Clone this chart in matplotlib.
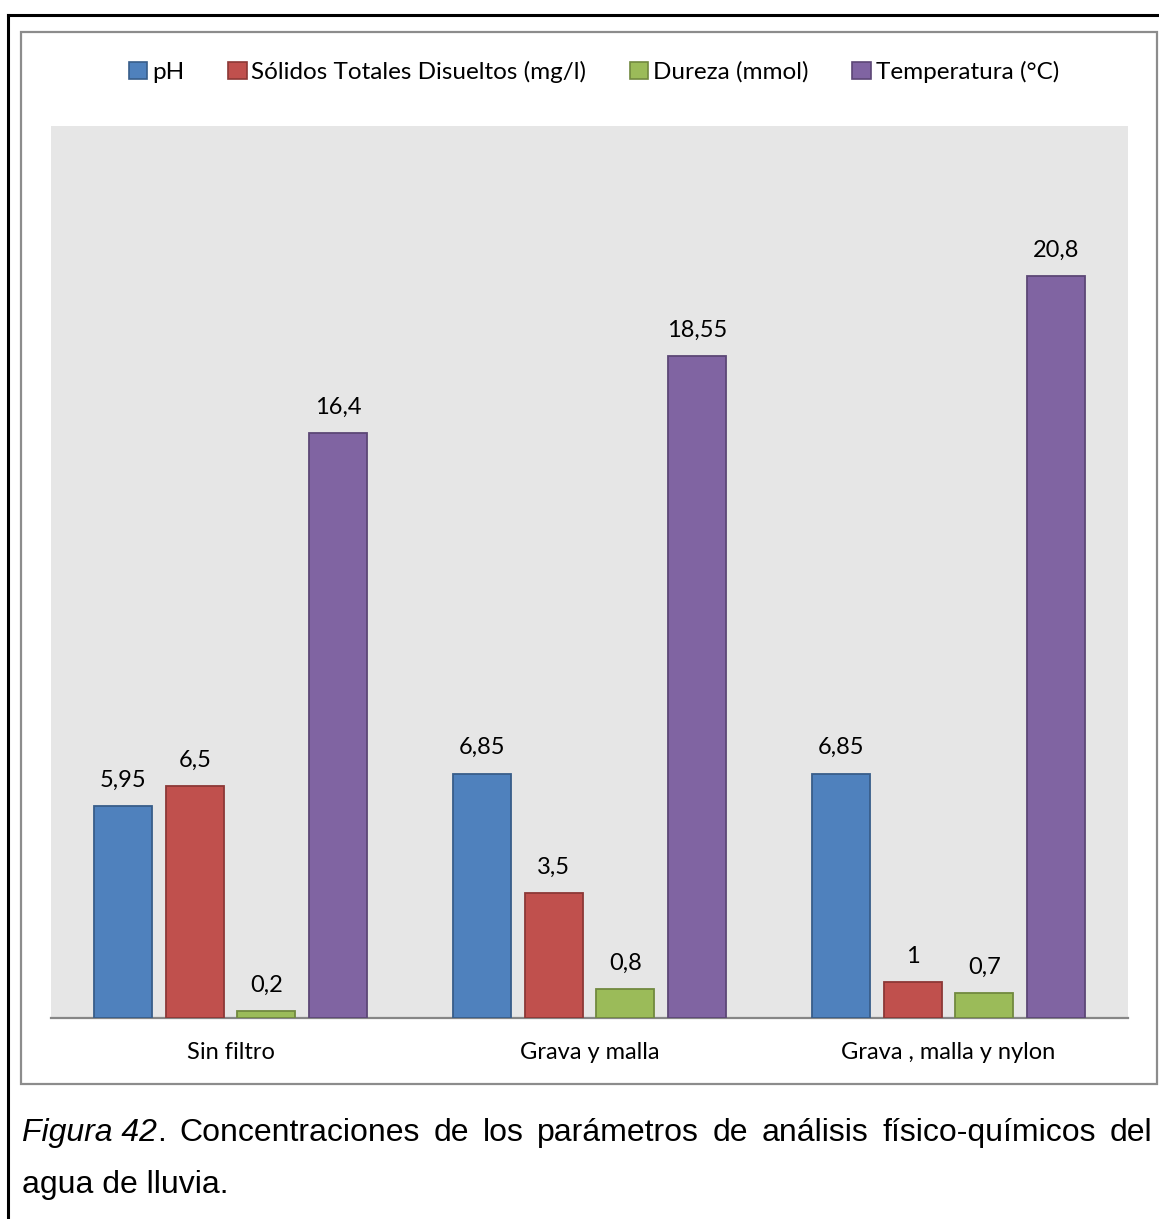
import matplotlib
matplotlib.use("Agg")
import matplotlib.pyplot as plt
from matplotlib.patches import Rectangle
from matplotlib.lines import Line2D
import numpy as np

categories = ["Sin filtro", "Grava y malla", "Grava , malla y nylon"]
series_names = ["pH", "Sólidos Totales Disueltos (mg/l)", "Dureza (mmol)", "Temperatura (°C)"]
ph = [5.95, 6.85, 6.85]
solidos = [6.5, 3.5, 1.0]
dureza = [0.2, 0.8, 0.7]
temperatura = [16.4, 18.55, 20.8]
series_values = [ph, solidos, dureza, temperatura]

face_colors = ["#4F81BD", "#C0504D", "#9BBB59", "#8064A2"]
edge_colors = ["#385D8A", "#8C3836", "#71893F", "#5C4776"]

W, H = 1159, 1219
fig = plt.figure(figsize=(W / 100, H / 100), dpi=100)
fig.patch.set_facecolor("white")

chart_font = ["Lato", "DejaVu Sans"]
caption_font = ["Liberation Sans", "DejaVu Sans"]
fs = 17


def fx(px):
    return px / W


def fy(py):
    return 1 - py / H


# outer page frame (black) and chart frame (gray)
fig.add_artist(Line2D([fx(8), fx(8)], [fy(15), fy(1219)], color="black", lw=2.2,
                      transform=fig.transFigure))
fig.add_artist(Line2D([fx(8), fx(1159)], [fy(15), fy(15)], color="black", lw=2.2,
                      transform=fig.transFigure))
fig.add_artist(Rectangle((fx(21), fy(1084)), fx(1157 - 21), (1084 - 32) / H,
                         fill=False, edgecolor="#8C8C8C", lw=1.6,
                         transform=fig.transFigure))

ax = fig.add_axes([fx(51), fy(1018), fx(1128 - 51), (1018 - 126) / H])
ax.set_facecolor("#E6E6E6")

x = np.arange(len(categories))
width = 0.1616
step = 0.1992
for i, (vals, fc, ec) in enumerate(zip(series_values, face_colors, edge_colors)):
    pos = x + (i - 1.5) * step
    bars = ax.bar(pos, vals, width=width, color=fc, edgecolor=ec, linewidth=1.3,
                  label=series_names[i], zorder=3)
    for b, v in zip(bars, vals):
        txt = f"{v:g}".replace(".", ",")
        ax.annotate(txt, (b.get_x() + b.get_width() / 2, v), xytext=(0, 11),
                    textcoords="offset points", ha="center", va="bottom",
                    fontsize=fs, family=chart_font, color="black")

ax.set_xlim(-0.5, 2.5)
ax.set_ylim(0, 25)
ax.set_yticks([])
ax.set_xticks(x)
ax.set_xticklabels(categories, fontsize=fs, family=chart_font)
ax.tick_params(axis="x", length=0, pad=17)
for s in ["top", "right", "left"]:
    ax.spines[s].set_visible(False)
ax.spines["bottom"].set_color("#868686")
ax.spines["bottom"].set_linewidth(1.6)

handles = [Rectangle((0, 0), 1, 1, facecolor=fc, edgecolor=ec, lw=1.2)
           for fc, ec in zip(face_colors, edge_colors)]
fig.legend(handles, series_names, loc="center", bbox_to_anchor=(fx(594), fy(72)),
           ncol=4, frameon=False, prop={"family": chart_font, "size": 17.5},
           handlelength=0.75, handleheight=0.75, handletextpad=0.2, columnspacing=1.8)

# caption, first line justified to the full text width
cap_fs = 23
renderer = fig.canvas.get_renderer()
cap_y = fy(1133)
left_px, right_px = 22, 1152
fig_label = fig.text(fx(left_px), cap_y, "Figura 42", fontsize=cap_fs, style="italic",
                     family=caption_font, va="center", ha="left")
bb = fig_label.get_window_extent(renderer=renderer)
dot = fig.text(bb.x1 / W, cap_y, ".", fontsize=cap_fs, family=caption_font,
               va="center", ha="left")
dot_end = dot.get_window_extent(renderer=renderer).x1

words = "Concentraciones de los parámetros de análisis físico-químicos del".split()
word_artists = [fig.text(0, cap_y, w, fontsize=cap_fs, family=caption_font,
                         va="center", ha="left") for w in words]
widths = [t.get_window_extent(renderer=renderer).width for t in word_artists]
n_gaps = len(words)
gap = (right_px - dot_end - sum(widths)) / n_gaps
cursor = dot_end + gap
for t, wd in zip(word_artists, widths):
    t.set_x(cursor / W)
    cursor += wd + gap

fig.text(fx(left_px), fy(1185), "agua de lluvia.", fontsize=cap_fs, family=caption_font,
         va="center", ha="left")

fig.savefig("out.png", dpi=100)
